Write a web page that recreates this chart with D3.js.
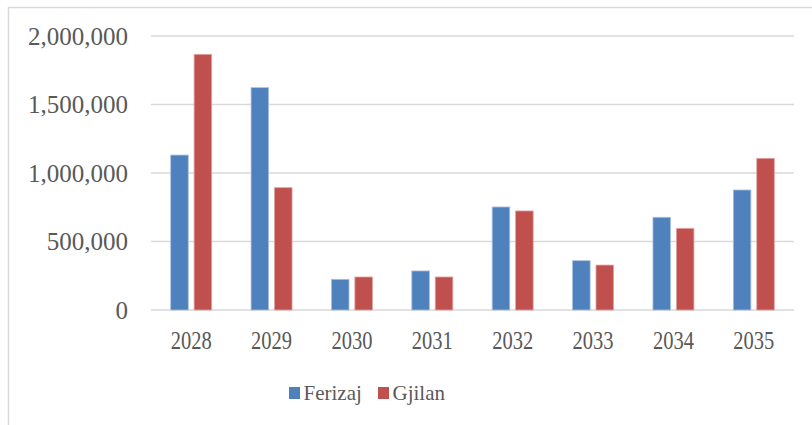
<!DOCTYPE html>
<html>
<head>
<meta charset="utf-8">
<script src="https://cdn.jsdelivr.net/npm/d3@7"></script>
<style>
  body { margin: 0; background: #fff; }
  svg text { font-family: "Liberation Serif", "Times New Roman", serif; fill: #595959; }
</style>
</head>
<body>
<div class="chart"></div>
<script>
// data
var years = ["2028", "2029", "2030", "2031", "2032", "2033", "2034", "2035"];
var seriesNames = ["Ferizaj", "Gjilan"];
var ferizaj = [1131000, 1623000, 224000, 285000, 752000, 360000, 677000, 876000];
var gjilan = [1866000, 893000, 241000, 241000, 723000, 328000, 596000, 1107000];
var yTicks = [0, 500000, 1000000, 1500000, 2000000];
var colors = ["#4F81BD", "#C0504D"];
var edgeColors = ["#a9c1e0", "#e0a3a1"];

// dimensions
var W = 812, H = 425;
var margin = {top: 36, right: 18, bottom: 115, left: 151};
var width = W - margin.left - margin.right;
var height = H - margin.top - margin.bottom;

var svg = d3.select(".chart")
  .append("svg")
  .attr("width", W)
  .attr("height", H);

// outer frame
svg.append("rect")
  .attr("x", 8.5).attr("y", 7.5)
  .attr("width", 830).attr("height", 440)
  .attr("fill", "none")
  .attr("stroke", "#d9d9d9")
  .attr("stroke-width", 1.5);

var chart = svg.append("g")
  .attr("transform", "translate(" + margin.left + "," + margin.top + ")");

// scales
var x0 = d3.scaleBand()
  .domain(years)
  .range([0, width])
  .paddingInner(0.49)
  .paddingOuter(0.245);
var x1 = d3.scaleBand()
  .domain(seriesNames)
  .range([0, x0.bandwidth()])
  .paddingInner(0.25);
var y = d3.scaleLinear()
  .domain([0, 2000000])
  .range([height, 0]);

// gridlines
chart.selectAll(".grid")
  .data(yTicks)
  .enter()
  .append("line")
  .attr("x1", 0)
  .attr("x2", width)
  .attr("y1", function(d) { return y(d); })
  .attr("y2", function(d) { return y(d); })
  .attr("stroke", "#d9d9d9")
  .attr("stroke-width", 1.4);

// y axis labels
var yAxis = chart.append("g")
  .call(d3.axisLeft(y).tickValues(yTicks).tickFormat(d3.format(",")).tickSize(0).tickPadding(23));
yAxis.select(".domain").remove();
yAxis.selectAll("text")
  .attr("font-size", "25px")
  .attr("fill", "#595959")
  .attr("font-family", "Liberation Serif, serif");

// bars
var groups = chart.selectAll(".year")
  .data(years)
  .enter()
  .append("g")
  .attr("transform", function(d) { return "translate(" + x0(d) + ",0)"; });

groups.selectAll("rect")
  .data(function(d, i) {
    return [
      {series: seriesNames[0], value: ferizaj[i], k: 0},
      {series: seriesNames[1], value: gjilan[i], k: 1}
    ];
  })
  .enter()
  .append("rect")
  .attr("x", function(d) { return x1(d.series); })
  .attr("y", function(d) { return y(d.value); })
  .attr("width", x1.bandwidth())
  .attr("height", function(d) { return height - y(d.value); })
  .attr("fill", function(d) { return colors[d.k]; })
  .attr("stroke", function(d) { return edgeColors[d.k]; })
  .attr("stroke-width", 0.8);

// x axis labels
var xAxis = chart.append("g")
  .attr("transform", "translate(0," + height + ")")
  .call(d3.axisBottom(x0).tickSize(0).tickPadding(21));
xAxis.select(".domain").remove();
xAxis.selectAll("text")
  .attr("font-size", "25px")
  .attr("fill", "#595959")
  .attr("font-family", "Liberation Serif, serif")
  .attr("textLength", 41)
  .attr("lengthAdjust", "spacingAndGlyphs");

// legend
var legendX = [289, 378];
var legend = svg.selectAll(".legend")
  .data(seriesNames)
  .enter()
  .append("g")
  .attr("transform", function(d, i) { return "translate(" + legendX[i] + ",387)"; });
legend.append("rect")
  .attr("width", 11)
  .attr("height", 12)
  .attr("fill", function(d, i) { return colors[i]; });
legend.append("text")
  .attr("x", 14.5)
  .attr("y", 13)
  .attr("font-size", "21px")
  .text(function(d) { return d; });
</script>
</body>
</html>
